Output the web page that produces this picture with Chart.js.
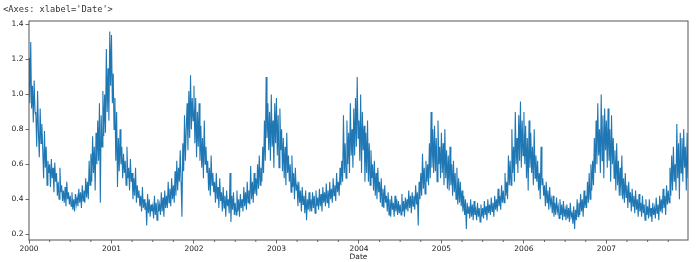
<!DOCTYPE html>
<html><head><meta charset="utf-8">
<script src="https://cdn.jsdelivr.net/npm/chart.js@4/dist/chart.umd.min.js"></script>
<style>
html,body{margin:0;padding:0;background:#fff;}
#wrap{position:relative;width:700px;height:262px;}
#hdr{position:absolute;left:3px;top:4px;font:8.7px "DejaVu Sans Mono",monospace;color:#333;white-space:pre;}
canvas{position:absolute;left:0;top:0;}
</style></head><body>
<div id="wrap"><canvas id="c" width="700" height="262"></canvas><div id="hdr">&lt;Axes: xlabel='Date'&gt;</div></div>
<script>
const years = [2000,2001,2002,2003,2004,2005,2006,2007];
const yTicks = [0.2,0.4,0.6,0.8,1.0,1.2,1.4];
const quarterTicks = [0.25,0.5,0.75];
const y2000 = [
1.21,0.95,1.30,0.92,1.05,0.84,1.08,0.90,
0.88,0.70,1.02,0.78,0.64,0.92,0.72,0.83,
0.68,0.52,0.79,0.58,0.70,0.48,0.62,0.55,
0.60,0.47,0.63,0.52,0.58,0.44,0.61,0.50,
0.55,0.42,0.50,0.40,0.58,0.44,0.48,0.39,
0.45,0.38,0.47,0.36,0.50,0.40,0.44,0.37,
0.42,0.36,0.44,0.34,0.40,0.33,0.43,0.37,
0.41,0.36,0.46,0.38,0.44,0.35,0.48,0.39,
0.45,0.38,0.52,0.41,0.50,0.40,0.62,0.48,
0.66,0.50,0.76,0.55,0.70,0.45,0.78,0.60,
0.85,0.62,0.95,0.38,0.88,0.70,1.02,0.76,
1.00,0.78,1.26,0.90,1.15,0.85,1.36,1.05];
const y2001 = [
1.34,0.95,1.12,0.80,0.98,0.62,0.90,0.47,
0.75,0.56,0.80,0.60,0.70,0.52,0.66,0.55,
0.62,0.48,0.70,0.52,0.58,0.45,0.63,0.50,
0.55,0.40,0.52,0.42,0.58,0.38,0.48,0.41,
0.45,0.36,0.42,0.33,0.47,0.35,0.40,0.34,
0.38,0.25,0.43,0.32,0.40,0.30,0.37,0.33,
0.36,0.29,0.42,0.31,0.38,0.28,0.40,0.33,
0.37,0.31,0.44,0.33,0.41,0.30,0.45,0.35,
0.42,0.35,0.50,0.38,0.46,0.36,0.52,0.40,
0.48,0.38,0.56,0.42,0.62,0.45,0.58,0.50,
0.68,0.50,0.30,0.72,0.56,0.88,0.62,0.80,
0.95,0.68,1.02,0.75,1.11,0.80,0.98,0.85];
const y2002 = [
1.05,0.72,0.98,0.64,0.90,0.70,0.95,0.62,
0.82,0.58,0.75,0.52,0.85,0.60,0.70,0.55,
0.62,0.45,0.58,0.42,0.65,0.48,0.55,0.44,
0.50,0.38,0.55,0.40,0.47,0.35,0.52,0.39,
0.44,0.33,0.47,0.35,0.42,0.30,0.45,0.36,
0.40,0.32,0.55,0.27,0.42,0.34,0.44,0.31,
0.38,0.31,0.45,0.33,0.40,0.30,0.43,0.35,
0.40,0.33,0.47,0.36,0.44,0.34,0.50,0.38,
0.45,0.37,0.59,0.40,0.50,0.38,0.55,0.43,
0.52,0.42,0.60,0.46,0.65,0.48,0.58,0.50,
0.70,0.55,0.85,0.62,1.10,0.75,0.95,0.68,
0.90,0.62,1.00,0.70,0.85,0.58,0.95,0.72];
const y2003 = [
0.98,0.65,0.88,0.58,0.92,0.68,0.80,0.56,
0.75,0.52,0.70,0.48,0.78,0.55,0.65,0.50,
0.60,0.44,0.65,0.47,0.55,0.40,0.58,0.45,
0.48,0.36,0.50,0.38,0.45,0.33,0.47,0.37,
0.42,0.32,0.45,0.28,0.40,0.34,0.44,0.33,
0.40,0.33,0.44,0.35,0.42,0.32,0.45,0.36,
0.41,0.34,0.46,0.36,0.43,0.33,0.47,0.38,
0.44,0.36,0.49,0.38,0.45,0.35,0.50,0.40,
0.46,0.38,0.52,0.42,0.48,0.39,0.55,0.44,
0.50,0.42,0.58,0.48,0.62,0.50,0.88,0.55,
0.72,0.52,0.85,0.60,0.78,0.55,0.95,0.65,
0.80,0.58,0.92,0.65,0.98,0.70,1.10,0.75];
const y2004 = [
0.85,0.62,1.00,0.55,0.90,0.68,0.82,0.50,
0.78,0.55,0.85,0.50,0.72,0.48,0.68,0.52,
0.60,0.45,0.62,0.42,0.55,0.40,0.58,0.44,
0.50,0.38,0.52,0.36,0.46,0.35,0.48,0.38,
0.42,0.33,0.44,0.31,0.40,0.30,0.42,0.34,
0.38,0.30,0.42,0.33,0.40,0.31,0.39,0.32,
0.37,0.31,0.43,0.33,0.39,0.30,0.41,0.34,
0.40,0.33,0.45,0.35,0.42,0.32,0.44,0.36,
0.42,0.34,0.48,0.37,0.44,0.25,0.50,0.40,
0.55,0.42,0.66,0.46,0.58,0.43,0.62,0.50,
0.60,0.48,0.72,0.52,0.90,0.58,0.80,0.55,
0.82,0.56,0.75,0.50,0.85,0.60,0.70,0.52];
const y2005 = [
0.78,0.55,0.72,0.48,0.80,0.52,0.68,0.46,
0.65,0.45,0.70,0.48,0.60,0.42,0.62,0.44,
0.55,0.40,0.58,0.37,0.52,0.38,0.50,0.36,
0.45,0.33,0.42,0.31,0.40,0.23,0.38,0.32,
0.36,0.29,0.40,0.30,0.37,0.28,0.39,0.31,
0.34,0.28,0.38,0.30,0.35,0.27,0.37,0.30,
0.35,0.29,0.39,0.31,0.36,0.28,0.40,0.32,
0.37,0.31,0.41,0.33,0.38,0.30,0.42,0.34,
0.40,0.33,0.46,0.36,0.42,0.34,0.48,0.38,
0.45,0.38,0.55,0.42,0.50,0.40,0.65,0.48,
0.62,0.48,0.80,0.55,0.70,0.50,0.90,0.60,
0.75,0.55,0.88,0.62,0.96,0.58,0.85,0.65];
const y2006 = [
0.90,0.60,0.82,0.52,0.75,0.45,0.85,0.58,
0.78,0.55,0.70,0.48,0.80,0.52,0.65,0.50,
0.62,0.45,0.55,0.40,0.70,0.48,0.52,0.42,
0.48,0.36,0.50,0.38,0.45,0.34,0.47,0.37,
0.40,0.32,0.42,0.30,0.38,0.31,0.41,0.33,
0.36,0.29,0.40,0.31,0.37,0.28,0.39,0.30,
0.34,0.28,0.37,0.29,0.35,0.27,0.38,0.30,
0.32,0.26,0.36,0.23,0.34,0.28,0.40,0.30,
0.38,0.31,0.43,0.33,0.40,0.30,0.45,0.35,
0.42,0.35,0.50,0.38,0.55,0.40,0.60,0.45,
0.62,0.48,0.75,0.55,0.85,0.60,0.95,0.65,
0.80,0.55,1.00,0.62,0.88,0.52,0.92,0.68];
const y2007 = [
0.85,0.58,0.92,0.62,0.80,0.50,0.88,0.60,
0.75,0.52,0.68,0.45,0.72,0.48,0.62,0.42,
0.58,0.42,0.65,0.40,0.52,0.38,0.55,0.41,
0.48,0.35,0.50,0.38,0.44,0.33,0.46,0.36,
0.42,0.32,0.45,0.34,0.40,0.30,0.43,0.33,
0.38,0.30,0.42,0.32,0.37,0.28,0.40,0.31,
0.36,0.29,0.40,0.30,0.35,0.27,0.38,0.31,
0.35,0.29,0.41,0.32,0.37,0.28,0.42,0.33,
0.40,0.32,0.46,0.35,0.42,0.31,0.48,0.37,
0.45,0.38,0.58,0.42,0.65,0.45,0.70,0.50,
0.60,0.45,0.83,0.52,0.72,0.40,0.78,0.55,
0.75,0.50,0.80,0.58,0.70,0.45,0.78,0.52];

const series = [y2000,y2001,y2002,y2003,y2004,y2005,y2006,y2007];
const points = [];
series.forEach((arr, yi) => {
  arr.forEach((v, i) => points.push({x: years[yi] + i / arr.length, y: v}));
});

const font = {family: 'DejaVu Sans', size: 7.5};
const frame = {
  id: 'frame',
  afterDraw(chart) {
    const {ctx, chartArea: a, scales: {x}} = chart;
    ctx.save();
    ctx.strokeStyle = '#444';
    ctx.lineWidth = 0.8;
    years.forEach(yr => quarterTicks.forEach(q => {
      const v = yr + q;
      if (v < x.min || v > x.max) return;
      const px = x.getPixelForValue(v);
      ctx.beginPath(); ctx.moveTo(px, a.bottom); ctx.lineTo(px, a.bottom + 2); ctx.stroke();
    }));
    ctx.strokeStyle = '#555';
    ctx.lineWidth = 1;
    ctx.strokeRect(a.left, a.top, a.right - a.left, a.bottom - a.top);
    ctx.restore();
  }
};

new Chart(document.getElementById('c'), {
  type: 'line',
  data: {datasets: [{data: points, borderColor: '#1f77b4', borderWidth: 1.1, pointRadius: 0, tension: 0, fill: false}]},
  options: {
    responsive: false, animation: false, parsing: true,
    layout: {padding: {top: 21, right: 12, left: 0, bottom: 0}},
    plugins: {legend: {display: false}, tooltip: {enabled: false}},
    scales: {
      x: {
        type: 'linear', min: points[0].x, max: points[points.length - 1].x,
        afterBuildTicks: s => { s.ticks = years.map(v => ({value: v})); },
        afterFit: s => { s.height = 22; },
        ticks: {autoSkip: false, maxRotation: 0, padding: 1, color: '#222', font, callback: v => String(v)},
        grid: {drawOnChartArea: false, drawTicks: true, tickLength: 3.5, color: '#444', tickWidth: 0.8},
        border: {display: false},
        title: {display: true, text: 'Date', color: '#222', font, padding: {top: 0, bottom: 0}}
      },
      y: {
        min: 0.167, max: 1.42,
        afterBuildTicks: s => { s.ticks = yTicks.map(v => ({value: v})); },
        afterFit: s => { s.width = 29; },
        ticks: {autoSkip: false, padding: 2, color: '#222', font, callback: v => v.toFixed(1)},
        grid: {drawOnChartArea: false, drawTicks: true, tickLength: 3.5, color: '#444', tickWidth: 0.8},
        border: {display: false}
      }
    }
  },
  plugins: [frame]
});
</script>
</body></html>
